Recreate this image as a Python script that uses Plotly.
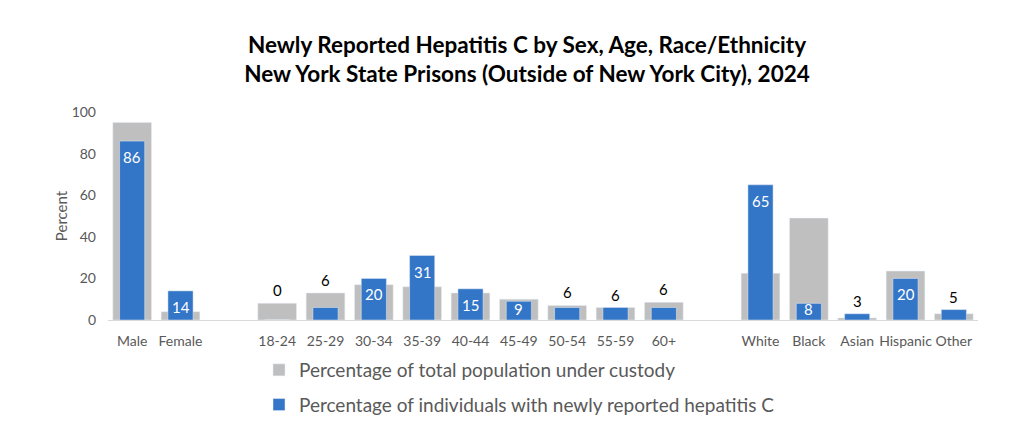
import plotly.graph_objects as go

# ---- data ----
sex_cats = ["Male", "Female"]
sex_pop = [95, 4]
sex_hcv = [86, 14]

age_cats = ["18-24", "25-29", "30-34", "35-39", "40-44", "45-49", "50-54", "55-59", "60+"]
age_pop = [8, 13, 17, 16, 13, 10, 7, 6, 8.5]
age_hcv = [0, 6, 20, 31, 15, 9, 6, 6, 6]

race_cats = ["White", "Black", "Asian", "Hispanic", "Other"]
race_pop = [22.5, 49, 1, 23.5, 3]
race_hcv = [65, 8, 3, 20, 5]

pop_name = "Percentage of total population under custody"
hcv_name = "Percentage of individuals with newly reported hepatitis C"
title_lines = ["Newly Reported Hepatitis C by Sex, Age, Race/Ethnicity",
               "New York State Prisons (Outside of New York City), 2024"]

# ---- combine groups with blank spacer slots ----
cats = sex_cats + [" "] + age_cats + ["  "] + race_cats
pop = sex_pop + [None] + age_pop + [None] + race_pop
hcv = sex_hcv + [None] + age_hcv + [None] + race_hcv

GRAY = "#BFBFBF"
BLUE = "#3375C6"
TXT = "#595959"
FONT = "Lato"

W, H = 1024, 423
L, R, T, B = 108, 46, 112, 103
PW, PH = W - L - R, H - T - B

fig = go.Figure()
fig.add_trace(go.Bar(x=cats, y=pop, name=pop_name, marker_color=GRAY,
                     width=0.8, legendgroup="a", hoverinfo="skip"))
fig.add_trace(go.Bar(x=cats, y=hcv, name=hcv_name, marker_color=BLUE,
                     width=0.52, legendgroup="b", hoverinfo="skip"))

annotations = []
for c, g, v in zip(cats, pop, hcv):
    if v is None:
        continue
    if v >= 8:
        if v >= 12:
            annotations.append(dict(x=c, y=v, xref="x", yref="y", text=str(v),
                                    showarrow=False, yanchor="top", yshift=-5,
                                    font=dict(family=FONT, size=15, color="white")))
        else:
            annotations.append(dict(x=c, y=0, xref="x", yref="y", text=str(v),
                                    showarrow=False, yanchor="bottom", yshift=0,
                                    font=dict(family=FONT, size=15, color="white")))
    else:
        annotations.append(dict(x=c, y=max(v, g), xref="x", yref="y", text=str(v),
                                showarrow=False, yanchor="bottom", yshift=2,
                                font=dict(family=FONT, size=15, color="black")))

fig.update_layout(
    width=W, height=H,
    margin=dict(l=L, r=R, t=T, b=B, autoexpand=False),
    paper_bgcolor="white", plot_bgcolor="white",
    barmode="overlay",
    font=dict(family=FONT, size=14, color=TXT),
    title=dict(text="<b>" + "<br>".join(title_lines) + "</b>",
               x=527 / W, xanchor="center", xref="container",
               y=1 - 53 / H, yanchor="top", yref="container",
               font=dict(family=FONT, size=22.5, color="black")),
    xaxis=dict(type="category", categoryorder="array", categoryarray=cats,
               showline=True, linecolor="#D9D9D9", linewidth=1,
               ticks="", showgrid=False, tickfont=dict(size=14, color=TXT),
               ticklabelstandoff=8,
               range=[-0.5, len(cats) - 0.5]),
    yaxis=dict(range=[0, 100], dtick=20, showgrid=False, zeroline=False,
               showline=False, ticks="", tickfont=dict(size=14, color=TXT),
               ticklabelstandoff=11,
               title=dict(text="Percent", font=dict(size=15, color=TXT), standoff=0)),
    legend=dict(x=(259 - L) / PW, y=-(351 - (H - B)) / PH,
                xanchor="left", yanchor="top",
                orientation="v", traceorder="grouped", tracegroupgap=7,
                font=dict(family=FONT, size=19, color=TXT),
                itemwidth=30, bgcolor="rgba(0,0,0,0)"),
    annotations=annotations,
    showlegend=True,
)

fig.write_html("out.html", config={"displayModeBar": False},
               post_script="document.body.style.margin='0';")
